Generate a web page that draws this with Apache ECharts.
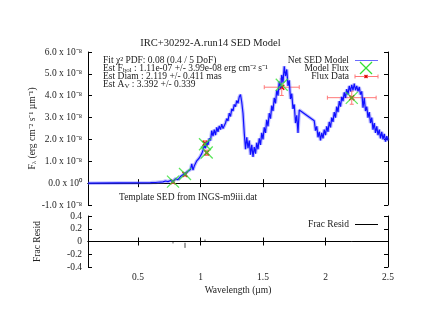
<!DOCTYPE html>
<html>
<head>
<meta charset="utf-8">
<script src="https://cdn.jsdelivr.net/npm/echarts@6/dist/echarts.min.js"></script>
<style>
  html, body { margin: 0; padding: 0; background: #fff; }
  #chart { width: 421px; height: 325px; }
</style>
</head>
<body>
<div id="chart"></div>
<script>
// template SED (flux in units of 1e-8 erg cm^-2 s^-1 um^-1)
const sedWave = [
  0.10, 0.60, 0.62, 0.64, 0.66, 0.68, 0.70, 0.72, 0.74, 0.76, 0.78, 0.80, 0.82, 0.84, 0.85,
  0.86, 0.87, 0.88, 0.89, 0.90, 0.91, 0.92, 0.93, 0.94, 0.95, 0.96, 0.97, 0.98, 0.99, 1.00,
  1.01, 1.02, 1.03, 1.04, 1.05, 1.06, 1.07, 1.08, 1.09, 1.10, 1.11, 1.12, 1.13, 1.14, 1.15,
  1.16, 1.17, 1.18, 1.19, 1.20, 1.21, 1.22, 1.23, 1.24, 1.25, 1.26, 1.27, 1.28, 1.29, 1.30,
  1.31, 1.32, 1.33, 1.34, 1.35, 1.36, 1.37, 1.38, 1.39, 1.40, 1.41, 1.42, 1.43, 1.44, 1.45,
  1.46, 1.47, 1.48, 1.49, 1.50, 1.51, 1.52, 1.53, 1.54, 1.55, 1.56, 1.57, 1.58, 1.59, 1.60,
  1.61, 1.62, 1.63, 1.64, 1.65, 1.66, 1.67, 1.68, 1.69, 1.70, 1.71, 1.72, 1.73, 1.74, 1.75,
  1.76, 1.77, 1.78, 1.79, 1.91, 1.92, 1.93, 1.94, 1.95, 1.96, 1.97, 1.98, 1.99, 2.00, 2.01,
  2.02, 2.03, 2.04, 2.05, 2.06, 2.07, 2.08, 2.09, 2.10, 2.11, 2.12, 2.13, 2.14, 2.15, 2.16,
  2.17, 2.18, 2.19, 2.20, 2.21, 2.22, 2.23, 2.24, 2.25, 2.26, 2.27, 2.28, 2.29, 2.30, 2.31,
  2.32, 2.33, 2.34, 2.35, 2.36, 2.37, 2.38, 2.39, 2.40, 2.41, 2.42, 2.43, 2.44, 2.45, 2.46,
  2.47, 2.48, 2.49, 2.50
]
const sedFlux = [
  0.00, 0.02, 0.03, 0.03, 0.04, 0.05, 0.06, 0.10, 0.07, 0.12, 0.08, 0.20, 0.16, 0.30, 0.24,
  0.38, 0.33, 0.45, 0.40, 0.55, 0.50, 0.62, 0.88, 0.60, 0.78, 0.85, 1.02, 0.98, 1.15, 1.10,
  1.35, 1.50, 1.72, 1.60, 1.88, 1.75, 2.05, 1.95, 2.40, 2.15, 2.45, 2.20, 2.55, 2.35, 2.62,
  2.45, 2.70, 2.50, 2.55, 2.75, 2.95, 2.85, 3.20, 3.05, 3.40, 3.30, 3.60, 3.50, 3.78, 3.65,
  3.95, 4.05, 3.70, 3.20, 2.30, 1.55, 2.10, 1.60, 1.95, 1.30, 1.75, 1.20, 1.65, 1.35, 1.85,
  1.55, 2.05, 1.75, 2.30, 2.00, 2.55, 2.30, 2.90, 2.60, 3.20, 2.95, 3.55, 3.30, 3.90, 3.65,
  4.25, 4.00, 4.65, 4.35, 4.95, 4.60, 5.35, 4.90, 5.20, 4.45, 4.70, 3.85, 4.10, 3.40, 3.60,
  2.75, 3.10, 2.30, 3.35, 2.85, 2.40, 2.60, 2.10, 2.35, 1.95, 2.30, 2.05, 2.45, 2.20, 2.60,
  2.35, 2.80, 2.55, 3.00, 2.80, 3.25, 3.00, 3.50, 3.25, 3.75, 3.50, 3.95, 3.75, 4.15, 3.90,
  4.30, 4.05, 4.45, 4.20, 4.50, 4.25, 4.55, 4.25, 4.45, 4.20, 4.40, 4.05, 4.20, 3.45, 3.90,
  3.30, 3.50, 3.00, 3.25, 2.75, 3.00, 2.45, 2.75, 2.30, 2.60, 2.20, 2.45, 2.05, 2.35, 2.00,
  2.25, 1.90, 2.15, 1.95
]

// photometry
const fluxWave = [0.78, 0.876, 1.036, 1.05, 1.65, 2.21]
const fluxWaveErr = [0.008, 0.01, 0.008, 0.008, 0.14, 0.195]
const fluxVal = [0.06, 0.40, 1.82, 1.39, 4.39, 3.91]
const fluxErr = [0.06, 0.08, 0.12, 0.12, 0.38, 0.30]
const modelVal = [0.07, 0.42, 1.78, 1.40, 4.50, 3.90]

// fractional residuals
const residWave = [0.78, 0.876, 1.036, 2.21]
const residVal = [-0.02, -0.06, 0.02, 0.0]
const residErr = [0.01, 0.04, 0.01, 0.005]

const yTickLabels = ['-1.0 x 10⁻⁸', '0.0 x 10⁰', '1.0 x 10⁻⁸', '2.0 x 10⁻⁸', '3.0 x 10⁻⁸', '4.0 x 10⁻⁸', '5.0 x 10⁻⁸', '6.0 x 10⁻⁸']
const residTickLabels = ['-0.4', '-0.2', '0', '0.2', '0.4']

const FONT = 'Liberation Serif'
const txt = '#222'

function axisBase(extra) {
  return Object.assign({
    type: 'value',
    axisLine: { show: true, lineStyle: { color: '#000', width: 1 } },
    axisTick: { show: true, inside: true, length: 4, lineStyle: { color: '#000' } },
    splitLine: { show: false },
    axisLabel: { show: false, color: txt, fontFamily: FONT, fontSize: 9.5 }
  }, extra)
}

const xCommon = { min: 0.1, max: 2.5, splitNumber: 5 }

function errBars(color, markColor, markSize, cap) {
  return function (params, api) {
    const x = api.value(0), y = api.value(1), ex = api.value(2), ey = api.value(3)
    const c = api.coord([x, y])
    const l = api.coord([x - ex, y])
    const r = api.coord([x + ex, y])
    const t = api.coord([x, y + ey])
    const b = api.coord([x, y - ey])
    const st = { stroke: color, lineWidth: 1 }
    const children = [
      { type: 'line', shape: { x1: c[0], y1: t[1], x2: c[0], y2: b[1] }, style: st }
    ]
    if (cap) {
      children.push(
        { type: 'line', shape: { x1: l[0], y1: c[1], x2: r[0], y2: c[1] }, style: st },
        { type: 'line', shape: { x1: l[0], y1: c[1] - cap, x2: l[0], y2: c[1] + cap }, style: st },
        { type: 'line', shape: { x1: r[0], y1: c[1] - cap, x2: r[0], y2: c[1] + cap }, style: st },
        { type: 'line', shape: { x1: c[0] - cap, y1: t[1], x2: c[0] + cap, y2: t[1] }, style: st },
        { type: 'line', shape: { x1: c[0] - cap, y1: b[1], x2: c[0] + cap, y2: b[1] }, style: st }
      )
    }
    if (markSize) {
      const s = markSize / 2
      children.push(
        { type: 'line', shape: { x1: c[0] - s, y1: c[1] - s, x2: c[0] + s, y2: c[1] + s }, style: { stroke: markColor, lineWidth: 1.5 } },
        { type: 'line', shape: { x1: c[0] - s, y1: c[1] + s, x2: c[0] + s, y2: c[1] - s }, style: { stroke: markColor, lineWidth: 1.5 } }
      )
    }
    return { type: 'group', children: children }
  }
}

const sedData = sedWave.map((w, i) => [w, sedFlux[i]])

const chart = echarts.init(document.getElementById('chart'), null, { renderer: 'canvas' })
chart.setOption({
  animation: false,
  backgroundColor: '#fff',
  textStyle: { fontFamily: FONT },
  title: {
    text: 'IRC+30292-A.run14 SED Model',
    left: 'center', top: 33,
    textStyle: { fontFamily: FONT, fontSize: 10.5, fontWeight: 'normal', color: txt }
  },
  grid: [
    { left: 88, right: 33, top: 52, height: 153 },
    { left: 88, right: 33, top: 216, height: 51 }
  ],
  xAxis: [
    axisBase(Object.assign({ gridIndex: 0, position: 'bottom' }, xCommon)),
    axisBase(Object.assign({ gridIndex: 0, position: 'top' }, xCommon)),
    axisBase(Object.assign({
      gridIndex: 1, position: 'bottom',
      axisLabel: { show: true, showMinLabel: false, color: txt, fontFamily: FONT, fontSize: 9.5, margin: 5 },
      name: 'Wavelength (µm)', nameLocation: 'middle', nameGap: 18, nameMoveOverlap: false,
      nameTextStyle: { fontFamily: FONT, fontSize: 9.5, color: txt }
    }, xCommon)),
    axisBase(Object.assign({ gridIndex: 1, position: 'top' }, xCommon))
  ],
  yAxis: [
    axisBase({
      gridIndex: 0, position: 'left', min: -1, max: 6, interval: 1,
      axisLabel: {
        show: true, color: txt, fontFamily: FONT, fontSize: 9.5, margin: 6,
        formatter: v => yTickLabels[Math.round(v + 1)]
      },
      name: '{m|F}{s|λ}{m| (erg cm⁻² s⁻¹ µm⁻¹)}', nameLocation: 'middle', nameGap: 50, nameRotate: 90,
      nameMoveOverlap: false,
      nameTextStyle: {
        rich: {
          m: { fontFamily: FONT, fontSize: 9.5, color: txt },
          s: { fontFamily: FONT, fontSize: 7, color: txt, padding: [4, 0, 0, 0] }
        }
      }
    }),
    axisBase({ gridIndex: 0, position: 'right', min: -1, max: 6, interval: 1 }),
    axisBase({
      gridIndex: 1, position: 'left', min: -0.4, max: 0.4, interval: 0.2,
      axisLabel: {
        show: true, color: txt, fontFamily: FONT, fontSize: 9.5, margin: 6,
        formatter: v => residTickLabels[Math.round((v + 0.4) / 0.2)]
      },
      name: 'Frac Resid', nameLocation: 'middle', nameGap: 46,
      nameTextStyle: { fontFamily: FONT, fontSize: 9.5, color: txt }
    }),
    axisBase({ gridIndex: 1, position: 'right', min: -0.4, max: 0.4, interval: 0.2 })
  ],
  series: [
    {
      // soft halo of the noisy template
      name: 'halo', type: 'line', xAxisIndex: 0, yAxisIndex: 0,
      data: sedData, showSymbol: false, symbol: 'none', silent: true,
      lineStyle: { color: 'rgba(90,90,255,0.4)', width: 3.5 }
    },
    {
      name: 'Net SED Model', type: 'line', xAxisIndex: 0, yAxisIndex: 0,
      data: sedData, showSymbol: false, symbol: 'none',
      lineStyle: { color: '#1010ff', width: 1.2 }
    },
    {
      name: 'Flux Data', type: 'custom', xAxisIndex: 0, yAxisIndex: 0,
      renderItem: errBars('#ff7878', '#e00000', 5, 2),
      data: fluxWave.map((w, i) => [w, fluxVal[i], fluxWaveErr[i], fluxErr[i]]),
      z: 3
    },
    {
      name: 'Model Flux', type: 'scatter', xAxisIndex: 0, yAxisIndex: 0,
      symbol: 'path://M0,0L10,10M10,0L0,10', symbolSize: 12,
      itemStyle: { color: 'none', borderColor: '#33e033', borderWidth: 1.3 },
      data: fluxWave.map((w, i) => [w, modelVal[i]]),
      z: 4
    },
    {
      name: 'Frac Resid', type: 'custom', xAxisIndex: 2, yAxisIndex: 2,
      renderItem: errBars('#444', '#444', 0, 0),
      data: residWave.map((w, i) => [w, residVal[i], 0, residErr[i]])
    }
  ],
  graphic: [
    // fit summary
    { type: 'text', left: 103, top: 55, style: { text: 'Fit χ² PDF: 0.08 (0.4 / 5 DoF)', font: '9.5px "Liberation Serif"', fill: txt } },
    {
      type: 'text', left: 103, top: 63,
      style: {
        text: '{m|Est F}{s|bol}{m| : 1.11e-07 +/- 3.99e-08 erg cm⁻² s⁻¹}',
        rich: {
          m: { fontFamily: FONT, fontSize: 9.5, fill: txt },
          s: { fontFamily: FONT, fontSize: 7, fill: txt, padding: [4, 0, 0, 0] }
        }
      }
    },
    { type: 'text', left: 103, top: 71, style: { text: 'Est Diam : 2.119 +/- 0.411 mas', font: '9.5px "Liberation Serif"', fill: txt } },
    {
      type: 'text', left: 103, top: 79,
      style: {
        text: '{m|Est A}{s|V}{m| : 3.392 +/- 0.339}',
        rich: {
          m: { fontFamily: FONT, fontSize: 9.5, fill: txt },
          s: { fontFamily: FONT, fontSize: 7, fill: txt, padding: [4, 0, 0, 0] }
        }
      }
    },
    { type: 'text', left: 119, top: 192, style: { text: 'Template SED from INGS-m9iii.dat', font: '9.5px "Liberation Serif"', fill: txt } },
    // legend, top panel
    { type: 'text', right: 72, top: 55, style: { text: 'Net SED Model', font: '9.5px "Liberation Serif"', fill: txt } },
    { type: 'line', shape: { x1: 355, y1: 60.5, x2: 378, y2: 60.5 }, style: { stroke: '#6a6aff', lineWidth: 1 } },
    { type: 'text', right: 72, top: 63, style: { text: 'Model Flux', font: '9.5px "Liberation Serif"', fill: txt } },
    { type: 'polyline', shape: { points: [[360, 62], [372, 74]] }, style: { stroke: '#33e033', lineWidth: 1.3 } },
    { type: 'polyline', shape: { points: [[360, 74], [372, 62]] }, style: { stroke: '#33e033', lineWidth: 1.3 } },
    { type: 'text', right: 72, top: 71.5, style: { text: 'Flux Data', font: '9.5px "Liberation Serif"', fill: txt } },
    { type: 'line', shape: { x1: 355, y1: 76.5, x2: 378, y2: 76.5 }, style: { stroke: '#ff7878', lineWidth: 1 } },
    { type: 'line', shape: { x1: 355, y1: 74.5, x2: 355, y2: 78.5 }, style: { stroke: '#ff7878', lineWidth: 1 } },
    { type: 'line', shape: { x1: 378, y1: 74.5, x2: 378, y2: 78.5 }, style: { stroke: '#ff7878', lineWidth: 1 } },
    { type: 'polyline', shape: { points: [[364.5, 75], [367.5, 78]] }, style: { stroke: '#e00000', lineWidth: 1.2 } },
    { type: 'polyline', shape: { points: [[364.5, 78], [367.5, 75]] }, style: { stroke: '#e00000', lineWidth: 1.2 } },
    // legend, residual panel
    { type: 'text', right: 72, top: 219, style: { text: 'Frac Resid', font: '9.5px "Liberation Serif"', fill: txt } },
    { type: 'line', shape: { x1: 355, y1: 224.5, x2: 378, y2: 224.5 }, style: { stroke: '#000', lineWidth: 1 } }
  ]
})
</script>
</body>
</html>
